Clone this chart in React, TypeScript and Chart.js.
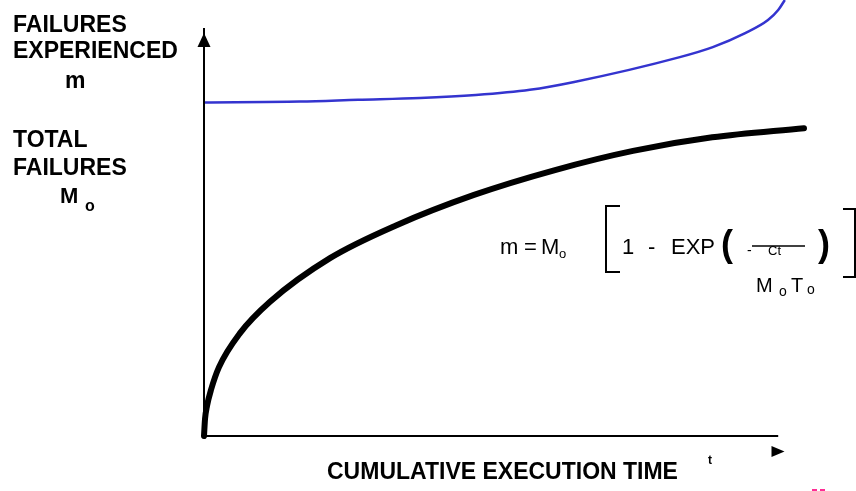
import React, { useEffect, useRef } from "react";
import { Chart, registerables } from "chart.js";

Chart.register(...registerables);

// ---- data (time units 0..100, failures units 0..100) ----
const timeTotal = [0, 0.17, 0.5, 1.17, 2.5, 6, 11, 21, 32, 45, 58.5, 71.5, 84.7, 100];
const failuresTotal = [0, 3.9, 6.9, 10.6, 15.8, 23.6, 30.8, 40.8, 48.3, 55.3, 61.0, 65.4, 68.5, 70.6];

const timeUpper = [0, 16, 25.7, 36, 45.3, 54.3, 61.7, 79.3, 84.8, 90.2, 94, 95.7, 96.8];
const failuresUpper = [76.5, 76.7, 77.1, 77.5, 78.2, 79.4, 81.2, 86.9, 89.2, 92.4, 95.4, 97.7, 100];

const xAxisEnd = 95.7;
const yAxisEnd = 93.6;
const xArrowAt = [95.67, -3.56];
const yArrowAt = [0, 90.8];

const yTitleTop = ["FAILURES", "EXPERIENCED"];
const yTitleSymbolTop = "m";
const yTitleBottom = ["TOTAL", "FAILURES"];
const yTitleSymbolBottom = ["M", "o"];
const xTitle = "CUMULATIVE EXECUTION TIME";
const xTitleSymbol = "t";

const FONT = '"Liberation Sans", Arial, Helvetica, sans-serif';

const overlayPlugin = {
  id: "overlay",
  afterDraw(chart: any) {
    const ctx: CanvasRenderingContext2D = chart.ctx;
    const xs = chart.scales.x;
    const ys = chart.scales.y;
    ctx.save();
    ctx.fillStyle = "#000";
    ctx.strokeStyle = "#000";
    ctx.textBaseline = "alphabetic";
    ctx.textAlign = "left";

    const txt = (s: string, x: number, y: number, size: number, bold = false) => {
      ctx.font = `${bold ? "bold " : ""}${size}px ${FONT}`;
      ctx.fillText(s, x, y);
    };

    // arrows
    const ax = xs.getPixelForValue(yArrowAt[0]);
    const ay = ys.getPixelForValue(yArrowAt[1]);
    ctx.beginPath();
    ctx.moveTo(ax, ay - 7);
    ctx.lineTo(ax + 6.5, ay + 7);
    ctx.lineTo(ax - 6.5, ay + 7);
    ctx.closePath();
    ctx.fill();

    const bx = xs.getPixelForValue(xArrowAt[0]);
    const by = ys.getPixelForValue(xArrowAt[1]);
    ctx.beginPath();
    ctx.moveTo(bx + 6.5, by);
    ctx.lineTo(bx - 6.5, by - 5.5);
    ctx.lineTo(bx - 6.5, by + 5.5);
    ctx.closePath();
    ctx.fill();

    // y titles
    txt(yTitleTop[0], 13, 32, 23, true);
    txt(yTitleTop[1], 13, 58, 23, true);
    txt(yTitleSymbolTop, 65, 88, 23, true);
    txt(yTitleBottom[0], 13, 147, 23, true);
    txt(yTitleBottom[1], 13, 175, 23, true);
    txt(yTitleSymbolBottom[0], 60, 203, 22, true);
    txt(yTitleSymbolBottom[1], 85, 211, 16, true);

    // x title
    txt(xTitle, 327, 479, 23, true);
    txt(xTitleSymbol, 708, 464, 12, true);

    // formula
    txt("m", 500, 254, 22);
    txt("=", 524, 254, 22);
    txt("M", 541, 254, 22);
    txt("o", 559, 258, 13);
    ctx.lineWidth = 2;
    ctx.beginPath();
    ctx.moveTo(620, 206);
    ctx.lineTo(606, 206);
    ctx.lineTo(606, 272);
    ctx.lineTo(620, 272);
    ctx.stroke();
    txt("1", 622, 254, 22);
    txt("-", 648, 254, 22);
    txt("EXP", 671, 254, 22);
    txt("(", 721, 256, 36, true);
    txt("-", 747, 255, 14);
    txt("Ct", 768, 255, 13);
    ctx.lineWidth = 1.5;
    ctx.beginPath();
    ctx.moveTo(752, 246);
    ctx.lineTo(805, 246);
    ctx.stroke();
    txt("M", 756, 292, 20);
    txt("o", 779, 296, 14);
    txt("T", 791, 292, 20);
    txt("o", 807, 294, 14);
    txt(")", 818, 256, 36, true);
    ctx.lineWidth = 2;
    ctx.beginPath();
    ctx.moveTo(843, 209);
    ctx.lineTo(855, 209);
    ctx.lineTo(855, 277);
    ctx.lineTo(843, 277);
    ctx.stroke();

    // small magenta marks
    ctx.fillStyle = "#ff2d95";
    ctx.fillRect(812, 489, 5, 2);
    ctx.fillRect(820, 489, 5, 2);
    ctx.restore();
  },
};

export default function App() {
  const ref = useRef<HTMLCanvasElement | null>(null);

  useEffect(() => {
    if (!ref.current) return;
    const chart = new Chart(ref.current, {
      type: "line",
      data: {
        datasets: [
          {
            label: "y axis",
            data: [
              { x: 0, y: 0 },
              { x: 0, y: yAxisEnd },
            ],
            borderColor: "#000",
            borderWidth: 2,
            pointRadius: 0,
            clip: false,
          },
          {
            label: "x axis",
            data: [
              { x: 0, y: 0 },
              { x: xAxisEnd, y: 0 },
            ],
            borderColor: "#000",
            borderWidth: 2,
            pointRadius: 0,
            clip: false,
          },
          {
            label: "Failures experienced",
            data: timeUpper.map((t, i) => ({ x: t, y: failuresUpper[i] })),
            borderColor: "#3434cf",
            borderWidth: 2.5,
            pointRadius: 0,
            cubicInterpolationMode: "monotone",
            clip: false,
          },
          {
            label: "Total failures",
            data: timeTotal.map((t, i) => ({ x: t, y: failuresTotal[i] })),
            borderColor: "#000",
            borderWidth: 6,
            borderCapStyle: "round",
            borderJoinStyle: "round",
            pointRadius: 0,
            cubicInterpolationMode: "monotone",
            clip: false,
          },
        ],
      },
      options: {
        responsive: false,
        animation: false,
        parsing: false as any,
        layout: { padding: { left: 204, right: 52, top: 0, bottom: 55 } },
        scales: {
          x: { type: "linear", min: 0, max: 100, display: false },
          y: { type: "linear", min: 0, max: 100, display: false },
        },
        plugins: {
          legend: { display: false },
          tooltip: { enabled: false },
        },
      },
      plugins: [overlayPlugin],
    } as any);
    return () => chart.destroy();
  }, []);

  return (
    <div style={{ position: "fixed", left: 0, top: 0, width: 856, height: 491, background: "#fff" }}>
      <canvas ref={ref} width={856} height={491} style={{ display: "block" }} />
    </div>
  );
}
